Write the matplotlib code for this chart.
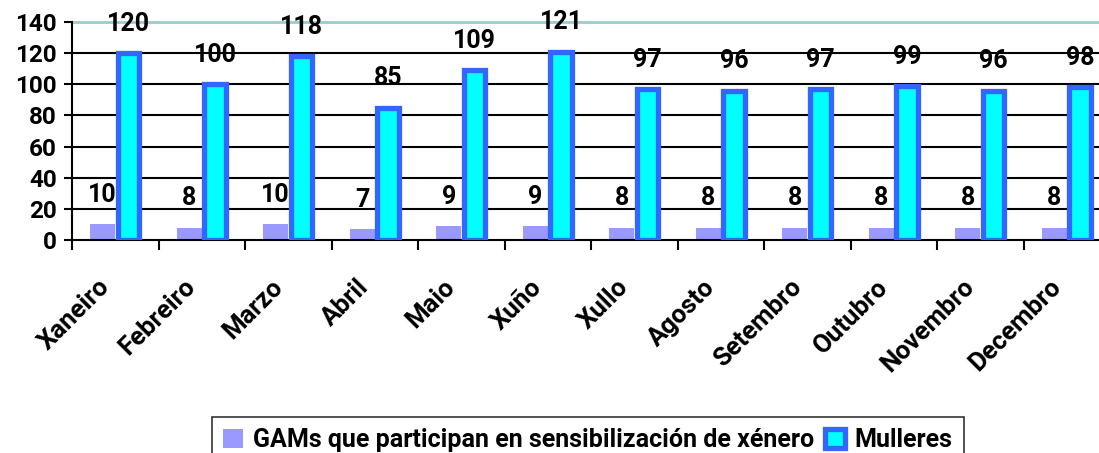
import numpy as np
import matplotlib.pyplot as plt
import matplotlib.transforms as mtransforms

months = ["Xaneiro", "Febreiro", "Marzo", "Abril", "Maio", "Xuño", "Xullo",
          "Agosto", "Setembro", "Outubro", "Novembro", "Decembro"]
gams = [10, 8, 10, 7, 9, 9, 8, 8, 8, 8, 8, 8]
mulleres = [120, 100, 118, 85, 109, 121, 97, 96, 97, 99, 96, 98]

plt.rcParams['font.family'] = ['Roboto', 'DejaVu Sans']
plt.rcParams['font.weight'] = 'bold'

fig = plt.figure(figsize=(10.99, 4.53), dpi=100)
ax = fig.add_axes([72 / 1099, 1 - 240 / 453, (1110 - 72) / 1099, 218 / 453])

x = np.arange(len(months))
for y in range(20, 140, 20):
    ax.axhline(y, color='black', lw=1.5, zorder=0)
ax.axhline(140, color='#99cccc', lw=2, zorder=0, clip_on=False)

b1 = ax.bar(x - 0.145, gams, width=0.29, color='#9999ff', zorder=2,
            label='GAMs que participan en sensibilización de xénero')
b2 = ax.bar(x + 0.155, mulleres, width=0.25, color='#00ffff', edgecolor='#3366ff',
            linewidth=3.8, zorder=3, label='Mulleres')

for xi, v in zip(x, gams):
    ax.annotate(str(v), (xi - 0.145, v), xytext=(0, 21), textcoords='offset points',
                ha='center', va='center', fontsize=18, fontweight='bold')
for xi, v in zip(x, mulleres):
    ax.annotate(str(v), (xi + 0.155, v), xytext=(0, 21), textcoords='offset points',
                ha='center', va='center', fontsize=18, fontweight='bold')

ax.set_xlim(-0.5, 11.5)
ax.set_ylim(0, 140)
ax.set_yticks(range(0, 141, 20))
ax.tick_params(axis='y', labelsize=17.5, length=6, width=1.5, pad=5)
ax.set_xticks(x)
ax.set_xticklabels(months, rotation=45, ha='right', rotation_mode='anchor', fontsize=18.5)
ax.tick_params(axis='x', which='major', length=0, pad=25)
ax.set_xticks(np.arange(-0.5, 12, 1), minor=True)
ax.tick_params(axis='x', which='minor', length=7, width=1.5, direction='out')
shift = mtransforms.ScaledTranslation(-18 / 100, 0, fig.dpi_scale_trans)
for lbl in ax.get_xticklabels():
    lbl.set_transform(lbl.get_transform() + shift)
for s in ['top', 'right']:
    ax.spines[s].set_visible(False)
ax.spines['left'].set_linewidth(1.5)
ax.spines['bottom'].set_linewidth(1.5)
for lbl in ax.get_yticklabels() + ax.get_xticklabels():
    lbl.set_fontweight('bold')

leg = fig.legend(handles=[b1, b2], loc='upper center', bbox_to_anchor=(588 / 1099, 1 - 404 / 453),
                 ncol=2, fontsize=18, frameon=True, fancybox=False, edgecolor='black',
                 handlelength=0.8, handleheight=0.8, handletextpad=0.4, columnspacing=0.4,
                 borderpad=0.45)
leg.get_frame().set_linewidth(1.2)
for t in leg.get_texts():
    t.set_fontweight('bold')

fig.savefig('out.png', dpi=100)
